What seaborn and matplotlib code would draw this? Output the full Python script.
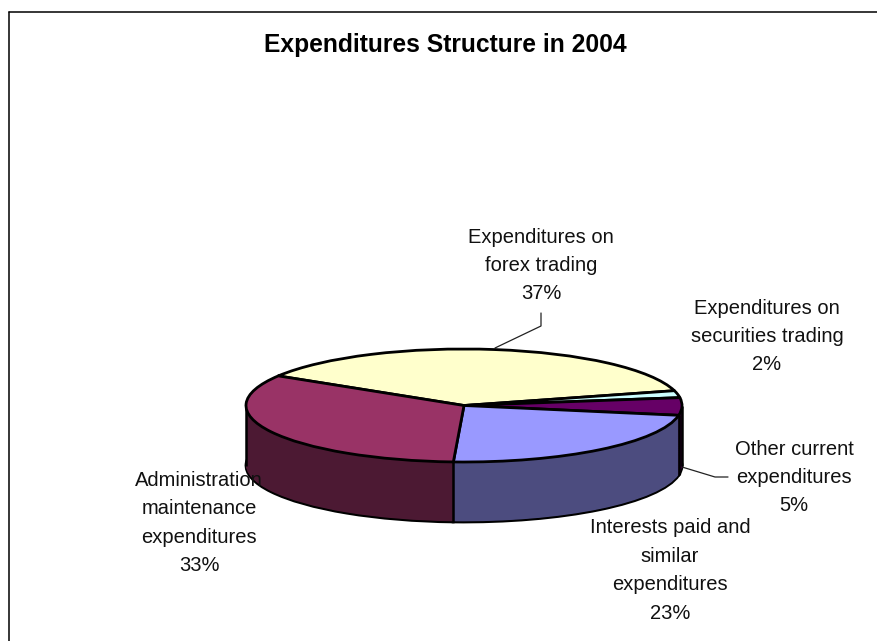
import numpy as np
import matplotlib
matplotlib.use("Agg")
import matplotlib.pyplot as plt
from matplotlib.lines import Line2D
import seaborn as sns

# Expenditure shares, in percent, clockwise from the upper left of the pie
categories = [
    "Expenditures on\nforex trading",
    "Expenditures on\nsecurities trading",
    "Other current\nexpenditures",
    "Interests paid and\nsimilar\nexpenditures",
    "Administration\nmaintenance\nexpenditures",
]
shares = [37, 2, 5, 23, 33]
top_colors = ["#FFFFCC", "#CCFFFF", "#660066", "#9999FF", "#993366"]
side_colors = ["#7F7F66", "#667F7F", "#330033", "#4C4C7F", "#4C1933"]
title_text = "Expenditures Structure in 2004"

W, H = 877, 641
CX, CY, RX, RY = 464.0, 405.5, 218.0, 56.5
DEPTH = 60.0
START_ANGLE = 148.4

sns.set_theme(style="white")
plt.rcParams["font.family"] = ["Liberation Sans", "DejaVu Sans"]

fig = plt.figure(figsize=(W / 100, H / 100), dpi=100, facecolor="white")
ax = fig.add_axes([0, 0, 1, 1])


def stacked_pie(offset, colors, **wedge_kw):
    return ax.pie(shares, colors=sns.color_palette(colors), startangle=START_ANGLE,
                  counterclock=False, radius=1, center=(0, -offset),
                  wedgeprops=wedge_kw, frame=True)[0]


# Rim of the disc: copies of the pie stepped downwards, darker than the top
depth_units = DEPTH / RY
stacked_pie(depth_units, side_colors, edgecolor="black", linewidth=2.0)
for d in np.linspace(depth_units, 0, 90)[1:]:
    stacked_pie(d, side_colors, edgecolor="none", linewidth=0, zorder=2)

top = stacked_pie(0, top_colors, edgecolor="black", linewidth=2.0, zorder=3)
for w in top:
    w.set_joinstyle("round")

ax.set_aspect("auto")
ax.set_xlim((0 - CX) / RX, (W - CX) / RX)
ax.set_ylim((CY - H) / RY, CY / RY)
ax.set_xticks([])
ax.set_yticks([])
for s in ax.spines.values():
    s.set_visible(False)

# Vertical edges of the rim: silhouette and visible slice boundaries
edge_angles = [180.0, 0.0, top[3].theta2, top[3].theta1]
for ang in edge_angles:
    x = np.cos(np.radians(ang))
    y = np.sin(np.radians(ang))
    ax.plot([x, x], [y, y - depth_units], color="black", lw=1.8, zorder=2.5,
            solid_capstyle="butt")


def px(x, y):
    return (x - CX) / RX, (CY - y) / RY


# Leader lines
for pts in ([(495, 348), (541, 326), (541, 313)],
            [(682, 467), (715, 477), (728, 477)]):
    xs, ys = zip(*[px(*p) for p in pts])
    ax.plot(xs, ys, color="#222222", lw=0.9, zorder=1)

labels_at = [(541, 265.5), (767, 336.5), (794, 477.5), (670, 570.5), (199, 523)]
for name, share, (x, y) in zip(categories, shares, labels_at):
    lx, ly = px(x, y)
    ax.text(lx, ly, f"{name}\n{share}%", ha="center", va="center", fontsize=14.5,
            color="#111111", linespacing=1.63, zorder=5)

tx, ty = px(445, 45)
ax.text(tx, ty, title_text, ha="center", va="center", fontsize=17.7,
        fontweight="bold", color="black", zorder=5)

# Chart area border along the top and left sides only
for xs, ys in (([9, W], [11.5, 11.5]), ([9, 9], [11.5, H])):
    fig.add_artist(Line2D([x / W for x in xs], [1 - y / H for y in ys],
                          color="black", lw=1.1, transform=fig.transFigure))

fig.savefig("out.png", dpi=100, facecolor="white")
